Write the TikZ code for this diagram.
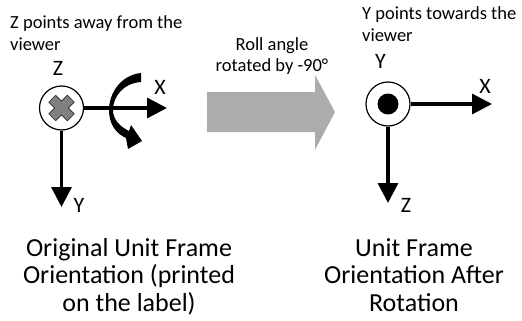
\documentclass[tikz,border=0pt]{standalone}
\usepackage{fontspec}
\setmainfont{Carlito}
\usetikzlibrary{arrows.meta}

\begin{document}
\begin{tikzpicture}[x=1pt,y=-1pt,
  axis/.style={line width=3.3pt,-{Triangle[length=20pt,width=20pt]}},
  frame/.style={circle,draw,line width=1.2pt,minimum size=44pt,inner sep=0pt},
  lbl/.style={font=\fontsize{22}{24}\selectfont,inner sep=0pt,anchor=base},
  note/.style={font=\fontsize{18.5}{22}\selectfont,align=left,inner sep=0pt,anchor=north west},
  caption/.style={font=\fontsize{26}{27.5}\selectfont,align=center,inner sep=0pt,anchor=north}]
\useasboundingbox (0,0) rectangle (522,321);

\node[note] (noteL) at (10,15) {Z points away from the\\viewer};
\node[note] (noteR) at (362,6) {Y points towards the\\viewer};
\node[font=\fontsize{18.5}{21}\selectfont,align=center,inner sep=0pt,anchor=north] (roll) at (272,37) {Roll angle\\rotated by -90°};

% roll arrow
\fill[gray!65] (207,92) -- (315,92) -- (315,75) -- (335,112) -- (315,150) -- (315,132) -- (207,132) -- cycle;

% original frame
\node[frame] (oL) at (61.5,108) {};
\draw[line width=10.5pt,gray!30!black] (oL.center) +(-9.5,-9.5) -- +(9.5,9.5) +(-9.5,9.5) -- +(9.5,-9.5);
\draw[line width=8.5pt,gray] (oL.center) +(-9,-9) -- +(9,9) +(-9,9) -- +(9,-9);
\coordinate (xL) at (167,108);
\coordinate (yL) at (61.5,207);
\fill (141,73) .. controls (121,75) and (109,93) .. (109,110) .. controls (109,123) and (115,133) .. (126,138)
  -- (128,149) -- (142,141) -- (131,125) -- (129,131)
  .. controls (119,126) and (113,119) .. (113,110) .. controls (113,96) and (124,83) .. (141,82) -- cycle;
\draw[axis] (oL.east) -- (xL);
\draw[axis] (oL.south) -- (yL);
\node[lbl] (zLab) at (58,75) {Z};
\node[lbl] (xLab) at (160,95) {X};
\node[lbl] (yLab) at (79,212) {Y};

% rotated frame
\node[frame] (oR) at (388,104) {};
\fill (oR) circle (10.5);
\coordinate (xR) at (492,104);
\coordinate (zR) at (388,203);
\draw[axis] (oR.east) -- (xR);
\draw[axis] (oR.south) -- (zR);
\node[lbl] (yLab2) at (380.5,68) {Y};
\node[lbl] (xLab2) at (485,93) {X};
\node[lbl] (zLab2) at (406,212) {Z};

\node[caption] (capL) at (129,238) {Original Unit Frame\\Orientation (printed\\on the label)};
\node[caption] (capR) at (414,238) {Unit Frame\\Orientation After\\Rotation};
\end{tikzpicture}
\end{document}
